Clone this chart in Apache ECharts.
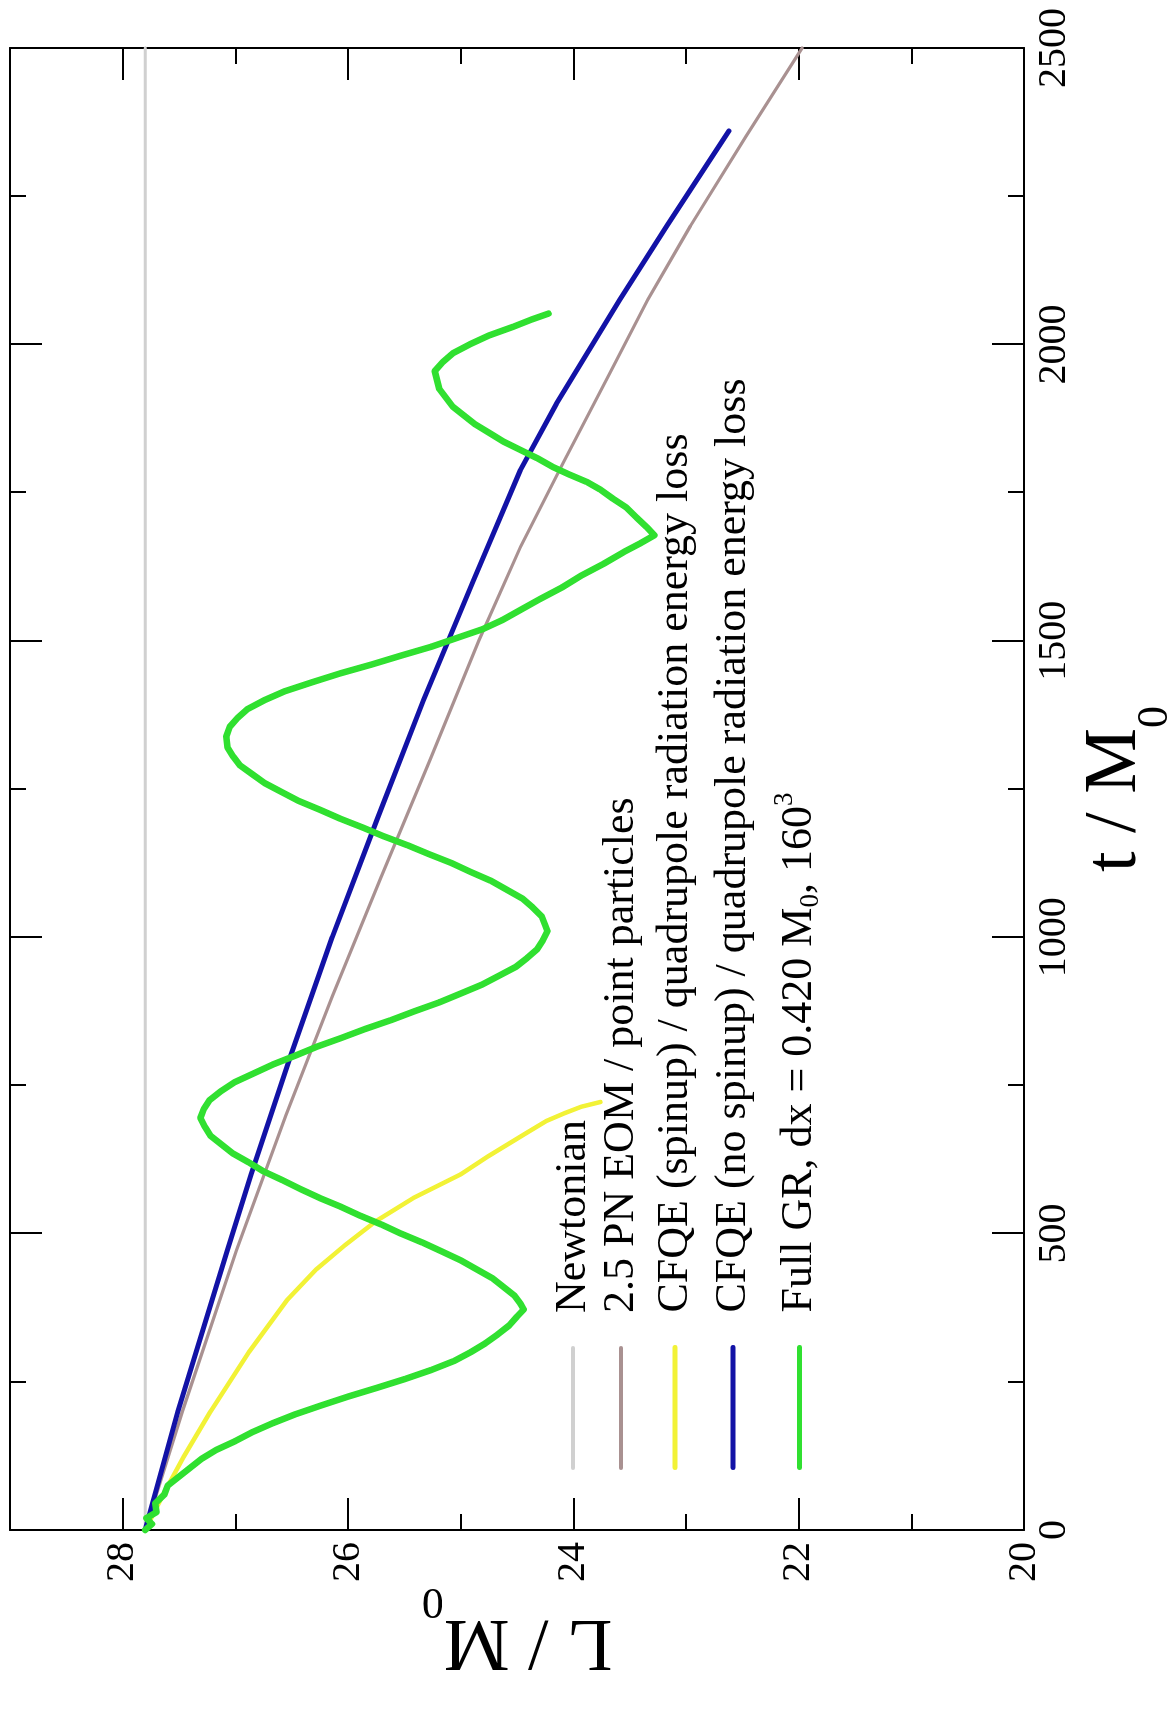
<!DOCTYPE html>
<html>
<head>
<meta charset="utf-8">
<title>L / M0 versus t / M0</title>
<script src="https://cdn.jsdelivr.net/npm/echarts@6/dist/echarts.min.js"></script>
<style>
  html, body { margin: 0; padding: 0; background: #fff; width: 1175px; height: 1711px; overflow: hidden; }
  /* the plot is laid out landscape and turned a quarter turn counter-clockwise onto the portrait page */
  #chart { position: absolute; left: 0; top: 0; width: 1711px; height: 1175px;
           transform-origin: 0 0; transform: translate(0, 1711px) rotate(-90deg); }
</style>
</head>
<body>
<div id="chart"></div>
<script>
const FONT = 'Liberation Serif';

// axis ranges and tick spacing
const tRange = [0, 2500];
const tMajorStep = 500;
const tMinorStep = 250;
const LRange = [20, 29];
const LMajorStep = 2;
const LMinorStep = 1;

const seriesNames = [
  'Newtonian',
  '2.5 PN EOM / point particles',
  'CFQE (spinup) / quadrupole radiation energy loss',
  'CFQE (no spinup) / quadrupole radiation energy loss',
  'Full GR, dx = 0.420 M0, 160^3'
];

// [t / M0, L / M0]
const newtonian = [[0, 27.80], [2500, 27.80]];

const pnPointParticles = [
  [0, 27.80], [200, 27.47], [472, 26.99], [700, 26.55], [900, 26.14], [1100, 25.71],
  [1300, 25.27], [1500, 24.84], [1658, 24.47], [1800, 24.09], [1950, 23.68], [2075, 23.34],
  [2200, 22.96], [2350, 22.47], [2500, 21.97]
];

const cfqeSpinup = [
  [0, 27.80], [60, 27.64], [123, 27.46], [200, 27.22], [300, 26.88], [388, 26.54],
  [440, 26.28], [480, 26.03], [520, 25.76], [560, 25.42], [600, 25.00], [630, 24.76],
  [667, 24.44], [690, 24.24], [703, 24.08], [714, 23.93], [722, 23.76]
];

const cfqeNoSpinup = [
  [0, 27.80], [200, 27.51], [472, 27.07], [600, 26.86], [800, 26.51], [1000, 26.14],
  [1200, 25.74], [1400, 25.33], [1600, 24.89], [1788, 24.47], [1900, 24.15], [2075, 23.59],
  [2200, 23.17], [2360, 22.62]
];

const fullGR = [
  [0, 27.80], [10, 27.74], [20, 27.79], [30, 27.70], [45, 27.71], [60, 27.63], [75, 27.60],
  [90, 27.50], [105, 27.40], [120, 27.30], [135, 27.17], [150, 27.00], [165, 26.85], [180, 26.67],
  [195, 26.47], [210, 26.24], [225, 26.00], [240, 25.74], [255, 25.49], [270, 25.26], [285, 25.06],
  [300, 24.91], [315, 24.78], [330, 24.67], [345, 24.57], [360, 24.50], [372, 24.44], [382, 24.47],
  [395, 24.52], [410, 24.62], [425, 24.72], [440, 24.86], [455, 25.00], [470, 25.17], [485, 25.34],
  [500, 25.53], [515, 25.70], [530, 25.89], [545, 26.06], [560, 26.25], [575, 26.42], [590, 26.58],
  [605, 26.75], [620, 26.88], [635, 27.02], [650, 27.12], [665, 27.22], [680, 27.27], [695, 27.31],
  [710, 27.28], [725, 27.23], [740, 27.13], [755, 27.01], [770, 26.84], [785, 26.67], [800, 26.47],
  [815, 26.28], [830, 26.06], [845, 25.85], [860, 25.62], [875, 25.41], [890, 25.19], [905, 25.00],
  [920, 24.81], [935, 24.66], [950, 24.51], [965, 24.41], [980, 24.32], [995, 24.27], [1010, 24.23],
  [1020, 24.25], [1035, 24.28], [1050, 24.36], [1065, 24.45], [1080, 24.59], [1095, 24.73],
  [1110, 24.91], [1125, 25.08], [1140, 25.28], [1155, 25.47], [1170, 25.68], [1185, 25.87],
  [1200, 26.07], [1215, 26.25], [1230, 26.44], [1245, 26.59], [1260, 26.74], [1275, 26.85],
  [1290, 26.96], [1305, 27.02], [1320, 27.07], [1339, 27.08], [1355, 27.05], [1370, 26.98],
  [1385, 26.89], [1400, 26.74], [1415, 26.56], [1430, 26.32], [1445, 26.07], [1460, 25.79],
  [1475, 25.53], [1490, 25.26], [1505, 25.03], [1520, 24.80], [1535, 24.63], [1552, 24.47],
  [1570, 24.30], [1590, 24.10], [1610, 23.93], [1630, 23.73], [1650, 23.55], [1665, 23.40],
  [1678, 23.28], [1692, 23.35], [1708, 23.44], [1725, 23.53], [1740, 23.65], [1755, 23.76],
  [1768, 23.88], [1780, 24.03], [1793, 24.18], [1808, 24.32], [1822, 24.47], [1836, 24.62],
  [1850, 24.74], [1865, 24.87], [1880, 24.97], [1895, 25.07], [1910, 25.13], [1925, 25.19],
  [1940, 25.21], [1955, 25.23], [1970, 25.16], [1985, 25.07], [2000, 24.92], [2015, 24.75],
  [2030, 24.53], [2042, 24.37], [2052, 24.22]
];

const seriesData = [newtonian, pnPointParticles, cfqeSpinup, cfqeNoSpinup, fullGR];
const seriesColors = ['#d0d0d0', '#a99191', '#f2f236', '#1212a6', '#30e030'];
const seriesWidths = [3, 3.2, 4.5, 5, 6.5];
const legendWidths = [4, 4, 5, 5, 5];

// legend rows: centre of each row across the plot, label text shown for each
const legendCentres = [573, 621, 675, 733, 799];
const legendLabels = [
  '{t|Newtonian}',
  '{t|2.5 PN EOM / point particles}',
  '{t|CFQE (spinup) / quadrupole radiation energy loss}',
  '{t|CFQE (no spinup) / quadrupole radiation energy loss}',
  '{t|Full GR, dx = 0.420 M}{sub|0}{t|, 160}{sup|3}'
];

const black = '#000';
const lineStyle = { color: black, width: 2 };

function axisPair(kind, position, step, tickLen, withLine, extra) {
  const range = kind === 'x' ? tRange : LRange;
  return Object.assign({
    type: 'value',
    position: position,
    min: range[0],
    max: range[1],
    interval: step,
    axisLine: { show: withLine, onZero: false, lineStyle: lineStyle },
    axisTick: { show: true, inside: true, length: tickLen, lineStyle: lineStyle },
    axisLabel: { show: false },
    splitLine: { show: false },
    minorTick: { show: false },
    minorSplitLine: { show: false }
  }, extra || {});
}

const nameRich = {
  m: { fontFamily: FONT, fontSize: 74, color: black },
  s: { fontFamily: FONT, fontSize: 44, color: black, padding: [78, 0, 0, 0] }
};

const tickLabel = { fontFamily: FONT, fontSize: 40, color: black };

const option = {
  animation: false,
  backgroundColor: '#fff',
  grid: { left: 181, right: 48, top: 10, bottom: 151, containLabel: false, outerBoundsMode: 'none' },
  xAxis: [
    axisPair('x', 'bottom', tMajorStep, 32, true, {
      axisLabel: Object.assign({
        show: true, margin: 10,
        formatter: function (v) { return String(v); }
      }, tickLabel),
      name: '{m|t / M}{s|0}',
      nameLocation: 'middle',
      nameGap: 31,
      nameTextStyle: { rich: nameRich }
    }),
    axisPair('x', 'bottom', tMinorStep, 16, false),
    axisPair('x', 'top', tMajorStep, 32, true),
    axisPair('x', 'top', tMinorStep, 16, false)
  ],
  yAxis: [
    axisPair('y', 'left', LMajorStep, 32, true, {
      axisLabel: Object.assign({
        show: true, margin: 12,
        formatter: function (v) { return v % LMajorStep === 0 ? String(v) : ''; }
      }, tickLabel),
      name: '{m|L / M}{s|0}',
      nameLocation: 'middle',
      nameRotate: 90,
      nameGap: 49,
      nameMoveOverlap: false,
      nameTextStyle: { rich: nameRich }
    }),
    axisPair('y', 'left', LMinorStep, 16, false),
    axisPair('y', 'right', LMajorStep, 32, true),
    axisPair('y', 'right', LMinorStep, 16, false)
  ],
  legend: seriesNames.map(function (name, i) {
    const rowHalf = i === 4 ? 28 : 22;
    return {
      data: [name],
      orient: 'horizontal',
      left: 241,
      top: legendCentres[i] - rowHalf,
      padding: 0,
      itemWidth: 120,
      itemHeight: 14,
      selectedMode: false,
      itemStyle: { opacity: 0 },
      lineStyle: { width: legendWidths[i], color: seriesColors[i] },
      formatter: function () { return legendLabels[i]; },
      textStyle: {
        fontFamily: FONT, fontSize: 44, color: black,
        padding: [0, 0, 0, 30],
        rich: {
          t: { fontFamily: FONT, fontSize: 44, color: black },
          sub: { fontFamily: FONT, fontSize: 27, color: black, padding: [22, 0, 0, 0] },
          sup: { fontFamily: FONT, fontSize: 27, color: black, padding: [0, 0, 30, 0] }
        }
      }
    };
  }),
  series: seriesNames.map(function (name, i) {
    return {
      name: name,
      type: 'line',
      xAxisIndex: 0,
      yAxisIndex: 0,
      data: seriesData[i],
      symbol: 'none',
      showSymbol: false,
      smooth: false,
      lineStyle: { color: seriesColors[i], width: seriesWidths[i], join: 'round', cap: 'round' },
      itemStyle: { color: seriesColors[i] },
      z: 2 + i
    };
  })
};

const chart = echarts.init(document.getElementById('chart'), null, { renderer: 'canvas' });
chart.setOption(option);
</script>
</body>
</html>
